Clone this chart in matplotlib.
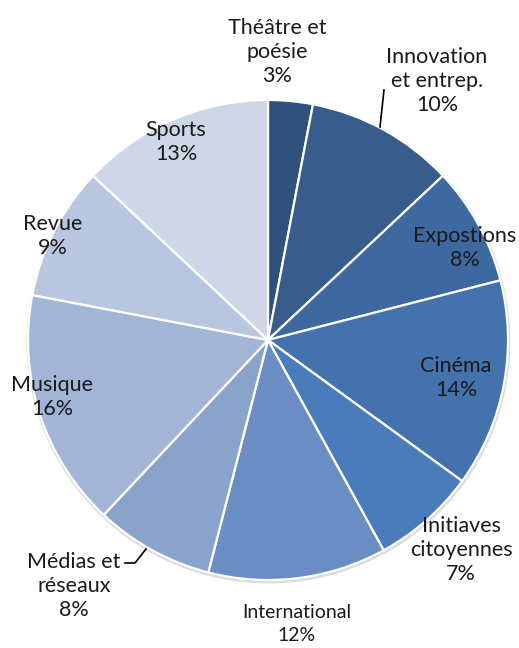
import matplotlib.pyplot as plt
from matplotlib.patches import Circle

# Data (clockwise from 12 o'clock)
categories = ["Théâtre et\npoésie", "Innovation\net entrep.", "Expostions", "Cinéma",
              "Initiaves\ncitoyennes", "International", "Médias et\nréseaux",
              "Musique", "Revue", "Sports"]
percents = [3, 10, 8, 14, 7, 12, 8, 16, 9, 13]
colors = ["#30517c", "#385d8c", "#3e68a0", "#4472ad", "#4a7cbb", "#6a8ec4",
          "#8aa3cb", "#a3b5d6", "#b9c6df", "#ced7e8"]

# label anchor points in pixels (x, y from top) and font sizes
label_pos = [(277, 52), (437, 81), (465, 248), (456, 378), (461, 550),
             (297, 624), (74, 586), (52, 397), (53, 236), (176, 142)]
label_size = [15.5, 15.5, 15.5, 15.5, 15.5, 14, 15.5, 15.5, 15.5, 15.5]

W, H = 519, 648
cx, cy, r = 268, 340, 240

plt.rcParams['font.family'] = ['Lato', 'DejaVu Sans']

fig = plt.figure(figsize=(W / 100, H / 100), dpi=100)
ax = fig.add_axes([0, 0, 1, 1])

# soft shadow behind the pie
ax.add_patch(Circle((cx + 0.5, H - cy - 1.5), r + 1.2, color="#dcdcdc", zorder=0))

ax.pie(percents, colors=colors, startangle=90, counterclock=False,
       center=(cx, H - cy), radius=r, frame=True,
       wedgeprops=dict(edgecolor="white", linewidth=1.6))
ax.set_xlim(0, W)
ax.set_ylim(0, H)
ax.set_aspect('equal')
ax.axis('off')

for name, p, (x, y), fs in zip(categories, percents, label_pos, label_size):
    ax.text(x, H - y, f"{name}\n{p}%", ha="center", va="center",
            fontsize=fs, color="#1a1a1a", linespacing=1.28 * 15.5 / fs, zorder=5)

# leader lines
ax.plot([384, 380], [H - 90, H - 127], color="black", lw=1.2, zorder=5)
ax.plot([125, 135, 146], [H - 563, H - 563, H - 549], color="black", lw=1.2, zorder=5)

fig.savefig("out.png", dpi=100)
